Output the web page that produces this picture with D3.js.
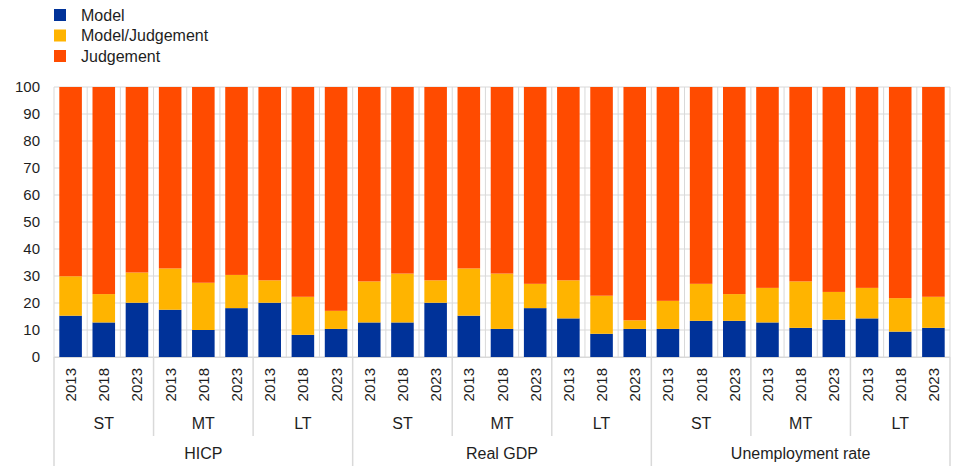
<!DOCTYPE html>
<html><head><meta charset="utf-8">
<script src="https://cdn.jsdelivr.net/npm/d3@7"></script>
<style>body{margin:0;background:#fff;}svg{display:block;font-family:"Liberation Sans",Arial,sans-serif;}</style>
</head><body><svg id="c" width="962" height="475"></svg>
<script>
const indicators = ["HICP", "Real GDP", "Unemployment rate"];
const horizons = ["ST", "MT", "LT"];
const years = ["2013", "2018", "2023"];
const seriesNames = ["Model", "Model/Judgement", "Judgement"];
const colors = ["#003299", "#FFB400", "#FF4B00"];
// Model share (%)
const model = [15.3, 12.8, 20.1, 17.5, 10.0, 18.1, 20.1, 8.2, 10.4,
               12.8, 12.8, 20.1, 15.3, 10.4, 18.1, 14.3, 8.6, 10.4,
               10.4, 13.4, 13.4, 12.8, 10.8, 13.8, 14.3, 9.4, 10.8];
// Model/Judgement share (%)
const modelJudgement = [14.6, 10.5, 11.2, 15.3, 17.5, 12.3, 8.3, 14.1, 6.7,
                        15.2, 18.1, 8.3, 17.5, 20.5, 9.0, 14.1, 14.1, 3.2,
                        10.4, 13.7, 9.9, 12.8, 17.2, 10.3, 11.3, 12.4, 11.5];
// Judgement share (%)
const judgement = model.map((m, i) => +(100 - m - modelJudgement[i]).toFixed(1));
const yTicks = [0,10,20,30,40,50,60,70,80,90,100];

const rows = [];
indicators.forEach((ind, a) => horizons.forEach((h, b) => years.forEach((y, c) => {
  const i = a*9 + b*3 + c;
  rows.push({key: i, ind, h, y, Model: model[i], "Model/Judgement": modelJudgement[i], Judgement: judgement[i]});
})));

const svg = d3.select("#c");
const L = 54, R = 950, T = 87, B = 357;
const x = d3.scaleBand().domain(rows.map(d => d.key)).range([L, R]).paddingInner(0.32).paddingOuter(0.16);
const y = d3.scaleLinear().domain([0, 100]).range([B, T]);
const step = x.step();
const gridC = "#d9d9d9", textC = "#1e1e1e";

// horizontal grid
svg.append("g").selectAll("line").data(yTicks).join("line")
  .attr("x1", L).attr("x2", R).attr("y1", d => y(d)).attr("y2", d => y(d))
  .attr("stroke", gridC).attr("stroke-width", 1);
// vertical grid at category boundaries
const bounds = d3.range(rows.length + 1).map(i => L + i*step);
svg.append("g").selectAll("line").data(bounds).join("line")
  .attr("x1", d => d).attr("x2", d => d).attr("y1", T).attr("y2", B)
  .attr("stroke", gridC).attr("stroke-width", 1);

// y tick labels
svg.append("g").selectAll("text").data(yTicks).join("text")
  .attr("x", 40).attr("y", d => y(d)).attr("dy", "0.35em").attr("text-anchor", "end")
  .attr("font-size", 15).attr("fill", textC).text(d => d);

// stacked bars
const stack = d3.stack().keys(seriesNames)(rows);
svg.append("g").selectAll("g").data(stack).join("g")
  .attr("fill", (d, i) => colors[i])
  .selectAll("rect").data(d => d).join("rect")
  .attr("x", d => x(d.data.key)).attr("width", x.bandwidth())
  .attr("y", d => y(d[1])).attr("height", d => y(d[0]) - y(d[1]));

// x axis baseline
svg.append("line").attr("x1", L).attr("x2", R).attr("y1", B+0.5).attr("y2", B+0.5).attr("stroke", gridC);

// year labels
svg.append("g").selectAll("text").data(rows).join("text")
  .attr("transform", d => `translate(${x(d.key) + x.bandwidth()/2 + 5.5},368) rotate(-90)`)
  .attr("text-anchor", "end").attr("font-size", 15).attr("fill", textC).text(d => d.y);

// horizon separators and labels
const hGroups = [];
indicators.forEach((ind, a) => horizons.forEach((h, b) => hGroups.push({h, start: (a*3+b)*3})));
svg.append("g").selectAll("line").data(d3.range(hGroups.length + 1)).join("line")
  .attr("x1", i => L + i*3*step).attr("x2", i => L + i*3*step)
  .attr("y1", B).attr("y2", i => i % 3 === 0 ? 466 : 436)
  .attr("stroke", gridC).attr("stroke-width", 1.5);
svg.append("g").selectAll("text").data(hGroups).join("text")
  .attr("x", d => L + (d.start + 1.5)*step).attr("y", 423).attr("dy", "0.35em")
  .attr("text-anchor", "middle").attr("font-size", 16).attr("fill", textC).text(d => d.h);
svg.append("g").selectAll("text").data(indicators).join("text")
  .attr("x", (d, i) => L + (i*9 + 4.5)*step).attr("y", 453).attr("dy", "0.35em")
  .attr("text-anchor", "middle").attr("font-size", 16).attr("fill", textC).text(d => d);

// legend
const lg = svg.append("g").selectAll("g").data(seriesNames).join("g")
  .attr("transform", (d, i) => `translate(54,${15 + i*20.5})`);
lg.append("rect").attr("x", 0).attr("y", -6).attr("width", 12).attr("height", 12).attr("fill", (d, i) => colors[i]);
lg.append("text").attr("x", 27).attr("y", 0).attr("dy", "0.35em").attr("font-size", 16).attr("fill", textC).text(d => d);
</script></body></html>
